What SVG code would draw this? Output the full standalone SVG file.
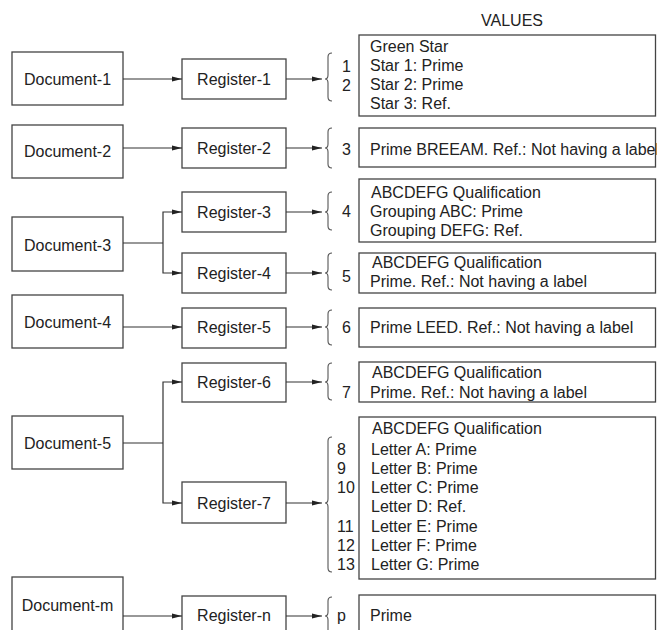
<svg xmlns="http://www.w3.org/2000/svg" width="657" height="630" viewBox="0 0 657 630">
<style>
.box{fill:#fff;stroke:#444;stroke-width:1.3}
.t{font-family:"Liberation Sans",Arial,sans-serif;font-size:16px;fill:#222}
.c{text-anchor:middle}
.ln{fill:none;stroke:#333;stroke-width:1.2}
.br{fill:none;stroke:#555;stroke-width:1.1}
</style>
<defs>
<marker id="ah" markerUnits="userSpaceOnUse" markerWidth="12" markerHeight="8" refX="10" refY="3" orient="auto">
<path d="M0,0.5 L10,3 L0,5.5 z" fill="#222"/>
</marker>
</defs>
<rect width="657" height="630" fill="#fff"/>
<text class="t c" x="512" y="26">VALUES</text>

<g id="doc1"><rect class="box" x="12" y="52" width="111" height="53"/><text class="t c" x="67.5" y="85">Document-1</text></g>
<g id="doc2"><rect class="box" x="12" y="125" width="111" height="53"/><text class="t c" x="67.5" y="157">Document-2</text></g>
<g id="doc3"><rect class="box" x="12" y="217" width="111" height="54"/><text class="t c" x="67.5" y="251">Document-3</text></g>
<g id="doc4"><rect class="box" x="12" y="295" width="111" height="53"/><text class="t c" x="67.5" y="328">Document-4</text></g>
<g id="doc5"><rect class="box" x="12" y="416" width="111" height="53"/><text class="t c" x="67.5" y="449">Document-5</text></g>
<g id="docm"><rect class="box" x="12" y="577" width="111" height="70"/><text class="t c" x="67.5" y="611">Document-m</text></g>

<g id="reg1"><rect class="box" x="182" y="59" width="104" height="40"/><text class="t c" x="234" y="85">Register-1</text></g>
<g id="reg2"><rect class="box" x="182" y="128" width="104" height="40"/><text class="t c" x="234" y="154">Register-2</text></g>
<g id="reg3"><rect class="box" x="182" y="192" width="104" height="40"/><text class="t c" x="234" y="218">Register-3</text></g>
<g id="reg4"><rect class="box" x="182" y="253" width="104" height="40"/><text class="t c" x="234" y="279">Register-4</text></g>
<g id="reg5"><rect class="box" x="182" y="308" width="104" height="40"/><text class="t c" x="234" y="333">Register-5</text></g>
<g id="reg6"><rect class="box" x="182" y="363" width="104" height="39"/><text class="t c" x="234" y="388">Register-6</text></g>
<g id="reg7"><rect class="box" x="182" y="482" width="104" height="41"/><text class="t c" x="234" y="509">Register-7</text></g>
<g id="regn"><rect class="box" x="182" y="596" width="104" height="50"/><text class="t c" x="234" y="621">Register-n</text></g>

<g id="connectors">
<path class="ln" d="M123,79 H182" marker-end="url(#ah)"/>
<path class="ln" d="M123,148 H182" marker-end="url(#ah)"/>
<path class="ln" d="M123,243 H163"/>
<path class="ln" d="M163,243 V212 H182" marker-end="url(#ah)"/>
<path class="ln" d="M163,243 V273 H182" marker-end="url(#ah)"/>
<path class="ln" d="M123,327 H182" marker-end="url(#ah)"/>
<path class="ln" d="M123,443 H163"/>
<path class="ln" d="M163,443 V382 H182" marker-end="url(#ah)"/>
<path class="ln" d="M163,443 V503 H182" marker-end="url(#ah)"/>
<path class="ln" d="M123,616 H182" marker-end="url(#ah)"/>
<path class="ln" d="M286,79 H322" marker-end="url(#ah)"/>
<path class="ln" d="M286,148 H322" marker-end="url(#ah)"/>
<path class="ln" d="M286,212 H322" marker-end="url(#ah)"/>
<path class="ln" d="M286,273 H322" marker-end="url(#ah)"/>
<path class="ln" d="M286,327 H322" marker-end="url(#ah)"/>
<path class="ln" d="M286,382 H322" marker-end="url(#ah)"/>
<path class="ln" d="M286,503 H322" marker-end="url(#ah)"/>
<path class="ln" d="M286,616 H322" marker-end="url(#ah)"/>
</g>

<g id="val1">
<path class="br" d="M332,53 Q328,53 328,57 V75 Q328,79 325,79 Q328,79 328,83 V97 Q328,101 332,101"/>
<text class="t" x="342" y="72">1</text><text class="t" x="342" y="91">2</text>
<rect class="box" x="359" y="35" width="296.5" height="81"/>
<text class="t" x="370" y="52">Green Star</text>
<text class="t" x="370" y="71">Star 1: Prime</text>
<text class="t" x="370" y="90">Star 2: Prime</text>
<text class="t" x="370" y="109">Star 3: Ref.</text>
</g>
<g id="val2">
<path class="br" d="M332,128 Q328,128 328,132 V144 Q328,148 325,148 Q328,148 328,152 V164 Q328,168 332,168"/>
<text class="t" x="342" y="155">3</text>
<rect class="box" x="359" y="128" width="296.5" height="39"/>
<text class="t" x="370" y="155">Prime BREEAM. Ref.: Not having a label</text>
</g>
<g id="val3">
<path class="br" d="M332,192 Q328,192 328,196 V208 Q328,212 325,212 Q328,212 328,216 V226 Q328,230 332,230"/>
<text class="t" x="342" y="217">4</text>
<rect class="box" x="359" y="179" width="296.5" height="63"/>
<text class="t" x="371" y="198">ABCDEFG Qualification</text>
<text class="t" x="370" y="217">Grouping ABC:  Prime</text>
<text class="t" x="370" y="236">Grouping DEFG: Ref.</text>
</g>
<g id="val4">
<path class="br" d="M332,253 Q328,253 328,257 V269 Q328,273 325,273 Q328,273 328,277 V286 Q328,290 332,290"/>
<text class="t" x="342" y="282">5</text>
<rect class="box" x="359" y="253" width="296.5" height="40"/>
<text class="t" x="372" y="268">ABCDEFG Qualification</text>
<text class="t" x="370" y="287">Prime. Ref.: Not having a label</text>
</g>
<g id="val5">
<path class="br" d="M332,310 Q328,310 328,314 V323 Q328,327 325,327 Q328,327 328,331 V341 Q328,345 332,345"/>
<text class="t" x="342" y="333">6</text>
<rect class="box" x="359" y="308" width="296.5" height="39"/>
<text class="t" x="370" y="333">Prime LEED. Ref.: Not having a label</text>
</g>
<g id="val6">
<path class="br" d="M332,363 Q328,363 328,367 V378 Q328,382 325,382 Q328,382 328,386 V396 Q328,400 332,400"/>
<text class="t" x="342" y="398">7</text>
<rect class="box" x="359" y="362" width="296.5" height="40"/>
<text class="t" x="372" y="378">ABCDEFG Qualification</text>
<text class="t" x="370" y="398">Prime. Ref.: Not having a label</text>
</g>
<g id="val7">
<path class="br" d="M332,437 Q328,437 328,441 V499 Q328,503 325,503 Q328,503 328,507 V568 Q328,572 332,572"/>
<text class="t" x="337" y="455">8</text>
<text class="t" x="337" y="474">9</text>
<text class="t" x="337" y="493">10</text>
<text class="t" x="337" y="532">11</text>
<text class="t" x="337" y="551">12</text>
<text class="t" x="337" y="570">13</text>
<rect class="box" x="359" y="417" width="296.5" height="162"/>
<text class="t" x="372" y="434">ABCDEFG Qualification</text>
<text class="t" x="371" y="455">Letter A: Prime</text>
<text class="t" x="371" y="474">Letter B: Prime</text>
<text class="t" x="371" y="493">Letter C: Prime</text>
<text class="t" x="371" y="512">Letter D: Ref.</text>
<text class="t" x="371" y="532">Letter E: Prime</text>
<text class="t" x="371" y="551">Letter F: Prime</text>
<text class="t" x="371" y="570">Letter G: Prime</text>
</g>
<g id="valp">
<path class="br" d="M332,597 Q328,597 328,601 V612 Q328,616 325,616 Q328,616 328,620 V640"/>
<text class="t" x="337" y="621">p</text>
<rect class="box" x="359" y="595" width="296.5" height="50"/>
<text class="t" x="370" y="621">Prime</text>
</g>
</svg>
